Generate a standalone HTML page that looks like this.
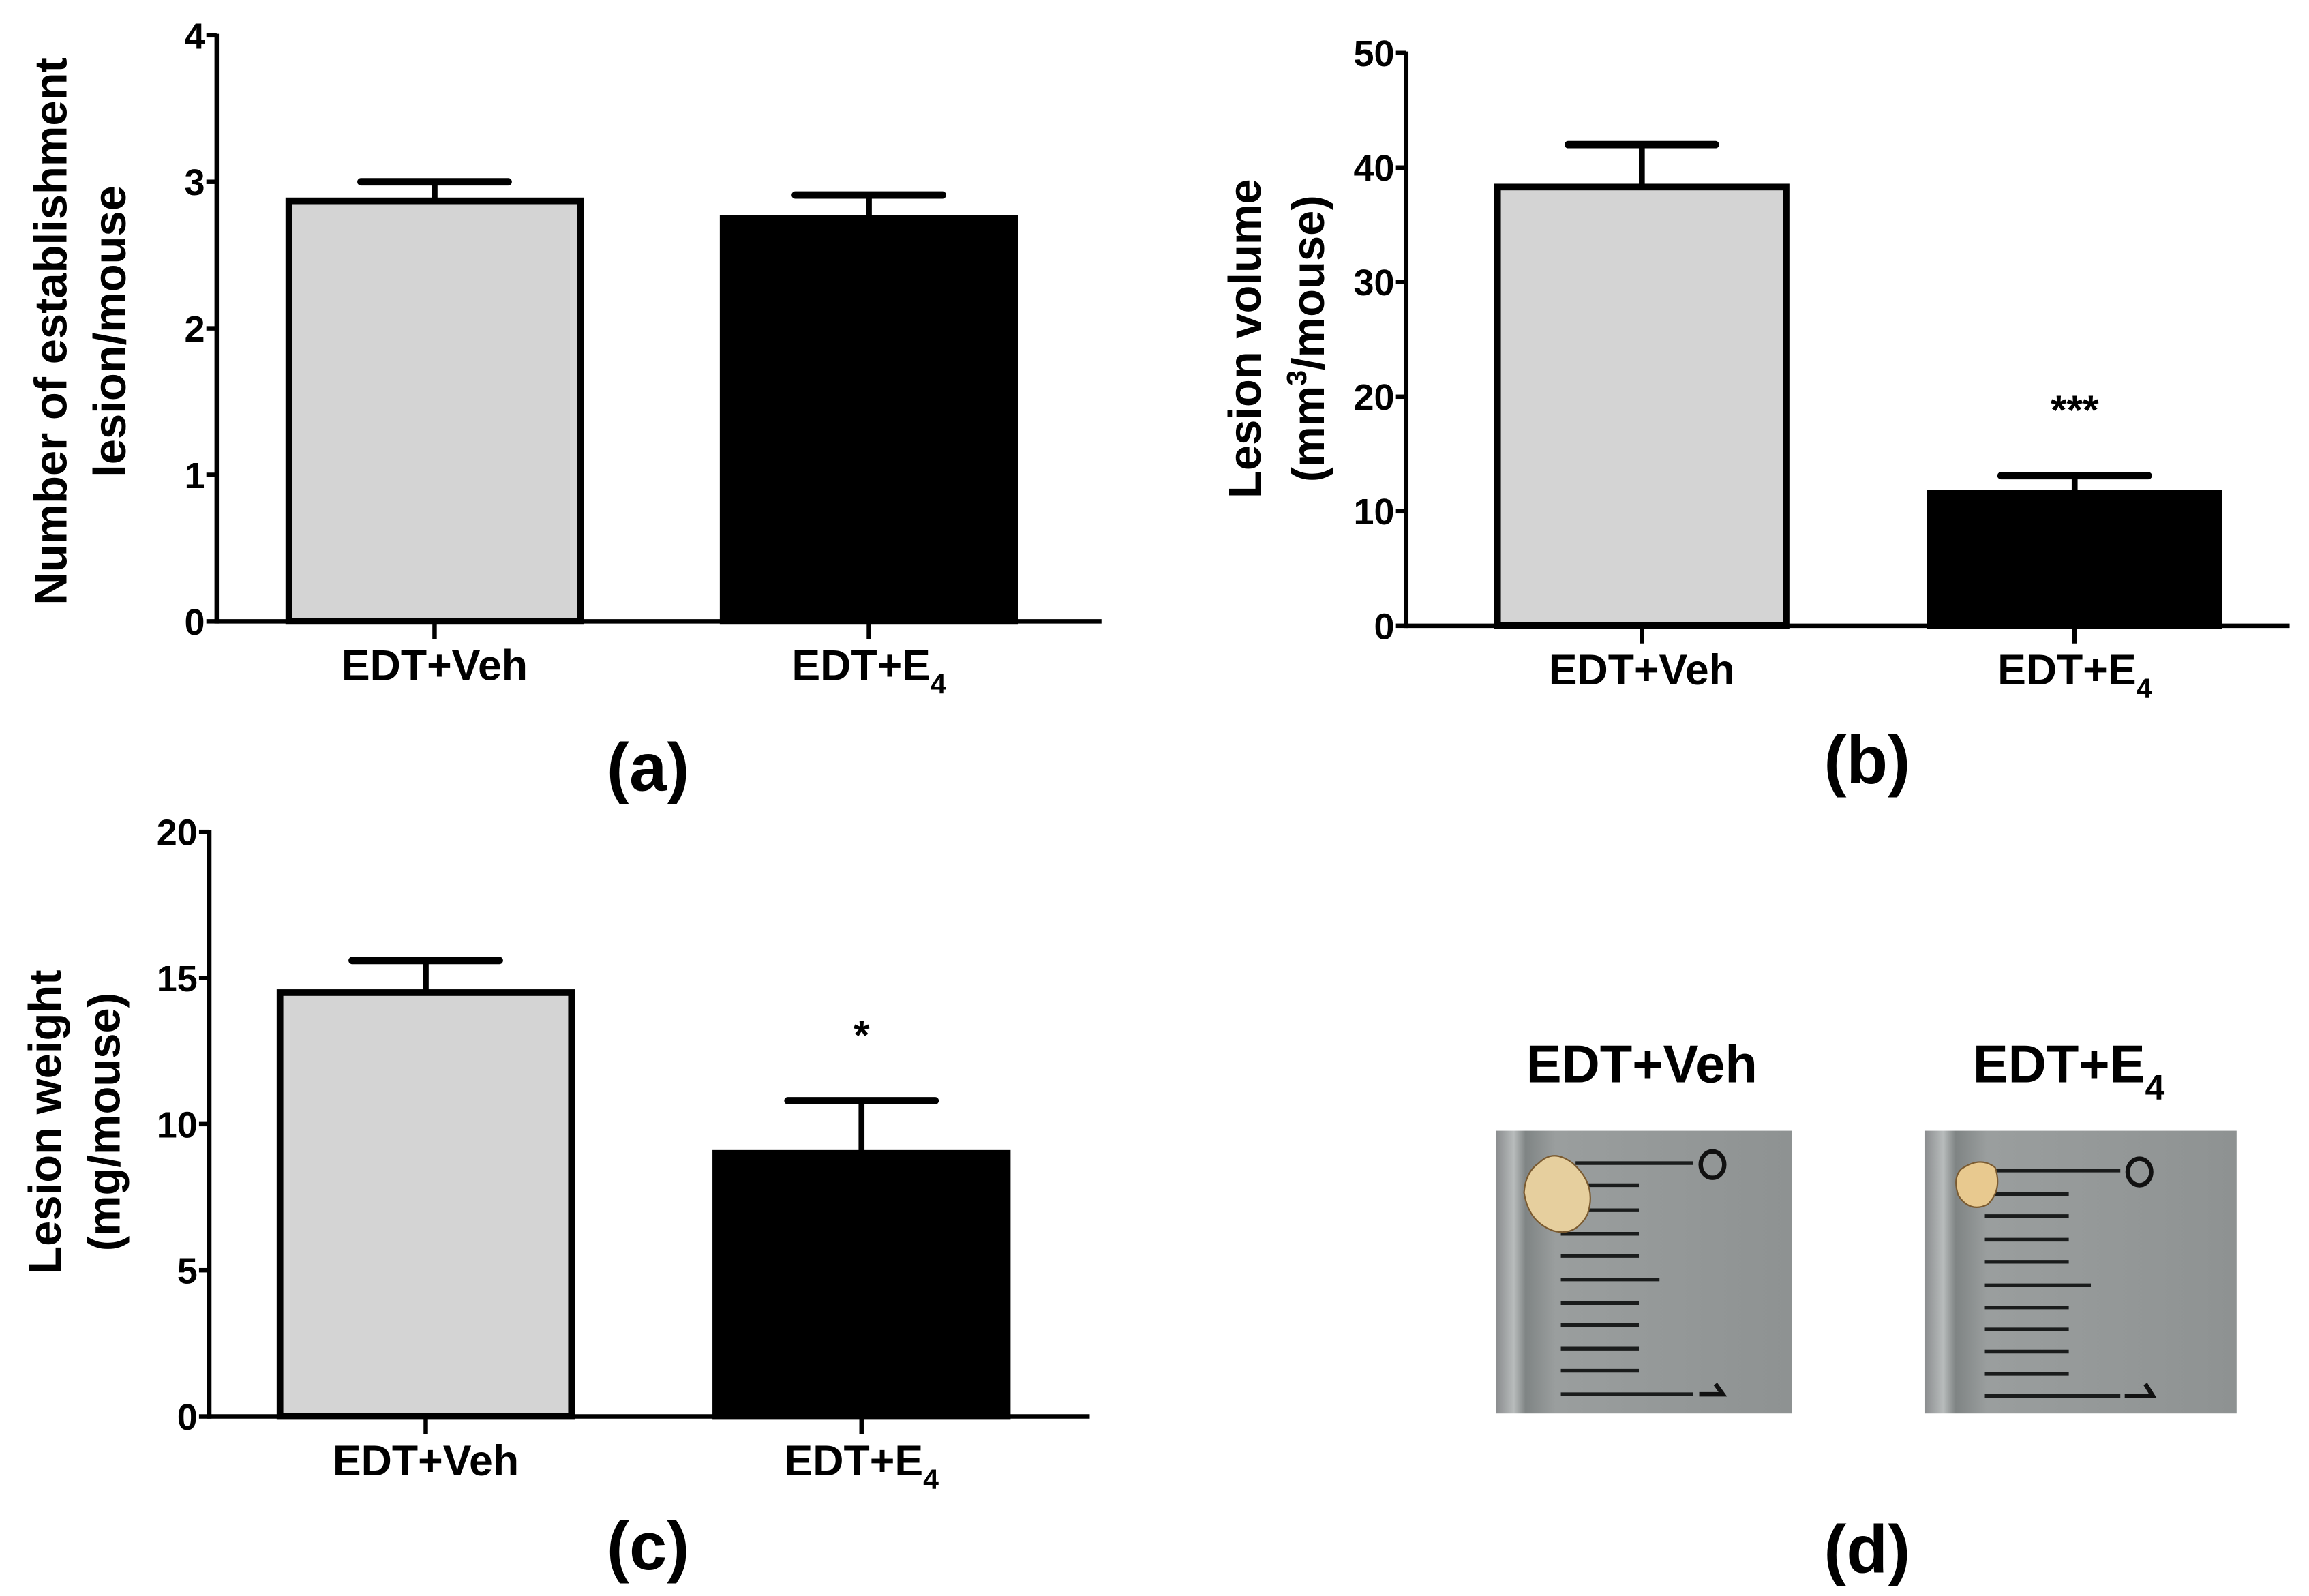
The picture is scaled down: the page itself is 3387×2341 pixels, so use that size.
<!DOCTYPE html>
<html><head><meta charset="utf-8"><style>
html,body{margin:0;padding:0;background:#fff;}
svg{display:block;}
text{font-family:"Liberation Sans Narrow","Liberation Sans",sans-serif;font-weight:bold;fill:#000;}
.yt{font-family:"Liberation Sans",sans-serif;}
</style></head><body>
<svg id="fig" width="3387" height="2341" viewBox="0 0 1568 1084" xmlns="http://www.w3.org/2000/svg">
<defs>
<linearGradient id="metal" x1="0" x2="1" y1="0" y2="0">
<stop offset="0" stop-color="#8a8c8e"/><stop offset="0.06" stop-color="#b8bcbc"/><stop offset="0.1" stop-color="#7f8484"/><stop offset="0.2" stop-color="#9a9e9e"/><stop offset="1" stop-color="#8e9292"/>
</linearGradient>
</defs>
<g id="root"></g>
<text x="440" y="537" font-size="46" text-anchor="middle" font-family="Liberation Sans">(a)</text>
<text x="1268" y="532" font-size="46" text-anchor="middle" font-family="Liberation Sans">(b)</text>
<text x="440" y="1066" font-size="46" text-anchor="middle" font-family="Liberation Sans">(c)</text>
<text x="1268" y="1068" font-size="46" text-anchor="middle" font-family="Liberation Sans">(d)</text>
<text x="1115" y="735" font-size="36" text-anchor="middle">EDT+Veh</text>
<text x="1405" y="735" font-size="36" text-anchor="middle">EDT+E<tspan font-size="24" dy="12">4</tspan></text>
<g>
<rect x="1016" y="768" width="201" height="192" fill="url(#metal)"/>
<g stroke="#1a1c1c" stroke-width="2.5">
<line x1="1070" y1="790" x2="1150" y2="790"/>
<line x1="1060" y1="805" x2="1113" y2="805"/><line x1="1060" y1="822" x2="1113" y2="822"/><line x1="1060" y1="838" x2="1113" y2="838"/><line x1="1060" y1="853" x2="1113" y2="853"/><line x1="1060" y1="869" x2="1127" y2="869"/><line x1="1060" y1="885" x2="1113" y2="885"/><line x1="1060" y1="900" x2="1113" y2="900"/><line x1="1060" y1="916" x2="1113" y2="916"/><line x1="1060" y1="931" x2="1113" y2="931"/><line x1="1060" y1="947" x2="1150" y2="947"/>
</g>
<ellipse cx="1163" cy="791" rx="8" ry="9" fill="none" stroke="#111" stroke-width="3"/>
<path d="M1154 947 L1170 947 L1165 940" fill="none" stroke="#111" stroke-width="3"/>
<path d="M1045 790 Q1055 780 1068 790 Q1085 805 1078 825 Q1070 840 1055 836 Q1038 830 1035 810 Q1036 796 1045 790Z" fill="#e6cf9e" stroke="#7a5a30" stroke-width="1"/>
</g>
<g>
<rect x="1307" y="768" width="212" height="192" fill="url(#metal)"/>
<g stroke="#1a1c1c" stroke-width="2.5">
<line x1="1350" y1="795" x2="1440" y2="795"/>
<line x1="1348" y1="811" x2="1405" y2="811"/><line x1="1348" y1="826" x2="1405" y2="826"/><line x1="1348" y1="842" x2="1405" y2="842"/><line x1="1348" y1="857" x2="1405" y2="857"/><line x1="1348" y1="873" x2="1420" y2="873"/><line x1="1348" y1="888" x2="1405" y2="888"/><line x1="1348" y1="903" x2="1405" y2="903"/><line x1="1348" y1="918" x2="1405" y2="918"/><line x1="1348" y1="933" x2="1405" y2="933"/><line x1="1348" y1="948" x2="1440" y2="948"/>
</g>
<ellipse cx="1453" cy="796" rx="8" ry="9" fill="none" stroke="#111" stroke-width="3"/>
<path d="M1443 948 L1462 948 L1457 940" fill="none" stroke="#111" stroke-width="3"/>
<path d="M1332 794 Q1345 785 1355 793 Q1360 808 1350 818 Q1338 824 1330 812 Q1326 800 1332 794Z" fill="#e8c98f" stroke="#7a5a30" stroke-width="1"/>
</g>
</svg>
<script>
// Panel (a)
const aCategories = ["EDT+Veh", "EDT+E4"];
const aValues = [2.87, 2.75];
const aErrors = [0.13, 0.16];
const aTicks = [0, 1, 2, 3, 4];
// Panel (b)
const bValues = [38.3, 11.6];
const bErrors = [3.7, 1.5];
const bTicks = [0, 10, 20, 30, 40, 50];
// Panel (c)
const cValues = [14.5, 9.0];
const cErrors = [1.1, 1.8];
const cTicks = [0, 5, 10, 15, 20];

const NS = "http://www.w3.org/2000/svg";
const root = document.getElementById("root");
function mk(tag, attrs, parent, txt) {
  const e = document.createElementNS(NS, tag);
  for (const k in attrs) e.setAttribute(k, attrs[k]);
  if (txt !== undefined) e.textContent = txt;
  (parent || root).appendChild(e);
  return e;
}

function panel(p) {
  const g = mk("g", {});
  
  
  const ymax = p.ticks[p.ticks.length - 1];
  const y = v => p.y0 - (v / ymax) * (p.y0 - p.ytop);
  p.values.forEach((v, i) => {
    const x0 = p.barX[i], w = p.barW;
    const top = y(v), err = y(v + p.errors[i]);
    const cx = x0 + w / 2;
    const eb = mk("line", {x1: cx, x2: cx, y1: top, y2: err, stroke: "#000", "stroke-width": 4}, g);
    
    
    const cap = mk("line", {x1: cx - 50, x2: cx + 50, y1: err, y2: err, stroke: "#000", "stroke-width": 5, "stroke-linecap": "round"}, g);
    
    
    const r = mk("rect", {x: x0, y: top, width: w, height: p.y0 - top, fill: i === 0 ? "#d4d4d4" : "#000", stroke: "#000", "stroke-width": 4.5}, g);
    
    
    const t = mk("line", {x1: cx, x2: cx, y1: p.y0, y2: p.y0 + 12, stroke: "#000", "stroke-width": 3}, g);
    
    
    const lab = mk("text", {x: cx, y: p.y0 + 40, "font-size": 29, "text-anchor": "middle"}, g);
    
    
    if (i === 0) lab.textContent = "EDT+Veh";
    else { lab.textContent = "EDT+E"; mk("tspan", {"font-size": 19, dy: 9}, lab, "4"); }
    if (p.stars && p.stars[i]) {
      const s = mk("text", {x: cx, y: err - 35, "font-size": 28, "text-anchor": "middle", "font-family": "Liberation Sans"}, g, p.stars[i]);
      
      
    }
  });
  const ya = mk("line", {x1: p.x0, x2: p.x0, y1: p.ytop - 1, y2: p.y0 + 1.5, stroke: "#000", "stroke-width": 3}, g);
  
  
  const xa = mk("line", {x1: p.x0, x2: p.xend, y1: p.y0, y2: p.y0, stroke: "#000", "stroke-width": 3}, g);
  
  
  p.ticks.forEach(tv => {
    const tl = mk("line", {x1: p.x0 - 7, x2: p.x0, y1: y(tv), y2: y(tv), stroke: "#000", "stroke-width": 3}, g);
    
    
    const tt = mk("text", {x: p.x0 - 8, y: y(tv) + 9, "font-size": 25, "text-anchor": "end"}, g, String(tv));
    
    
  });
  p.titles.forEach((tl) => {
    const t = mk("text", {x: 0, y: 0, "font-size": 31, "text-anchor": "middle", class: "yt", transform: `translate(${tl.x},${p.tcy}) rotate(-90)`}, g);
    
    
    if (tl.sup) { t.appendChild(document.createTextNode("(mm")); mk("tspan", {"font-size": 19, dy: -12}, t, "3"); mk("tspan", {dy: 12}, t, "/mouse)"); }
    else t.textContent = tl.t;
  });
}

panel({name: "chart-a", values: aValues, errors: aErrors, ticks: aTicks, x0: 147, xend: 748, ytop: 24, y0: 422, barX: [196, 491], barW: 198,
  tcy: 225, titles: [{x: 45, t: "Number of establishment"}, {x: 85, t: "lesion/mouse"}]});
panel({name: "chart-b", values: bValues, errors: bErrors, ticks: bTicks, x0: 955, xend: 1555, ytop: 36, y0: 425, barX: [1017, 1311], barW: 196,
  tcy: 230, stars: ["", "***"], titles: [{x: 856, t: "Lesion volume"}, {x: 899, sup: true}]});
panel({name: "chart-c", values: cValues, errors: cErrors, ticks: cTicks, x0: 142, xend: 740, ytop: 565, y0: 962, barX: [190, 486], barW: 198,
  tcy: 762, stars: ["", "*"], titles: [{x: 41, t: "Lesion weight"}, {x: 81, t: "(mg/mouse)"}]});
</script>
</body></html>
